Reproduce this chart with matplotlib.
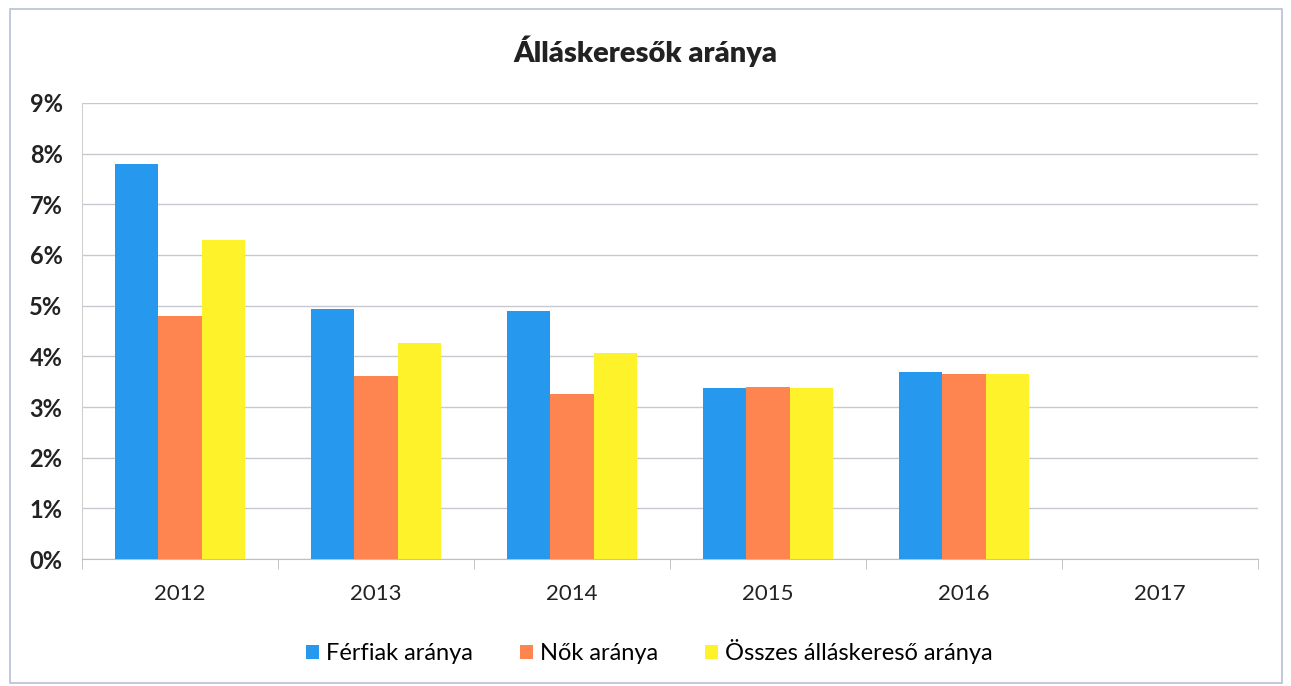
import numpy as np
import matplotlib
matplotlib.use("Agg")
import matplotlib.pyplot as plt
from matplotlib.ticker import FuncFormatter, FixedLocator
from matplotlib.patches import Rectangle

plt.rcParams['font.family'] = ['Lato', 'DejaVu Sans']

# adatok
years = ['2012', '2013', '2014', '2015', '2016', '2017']
ferfiak = [7.8, 4.93, 4.89, 3.38, 3.69, np.nan]
nok = [4.79, 3.61, 3.25, 3.39, 3.65, np.nan]
osszes = [6.29, 4.26, 4.06, 3.38, 3.65, np.nan]
series_names = ['Férfiak aránya', 'Nők aránya', 'Összes álláskereső aránya']
colors = ['#2699ee', '#fe8450', '#fef32a']

fig = plt.figure(figsize=(12.91, 6.86), dpi=100)
ax = fig.add_axes([0.0635, 0.185, 0.911, 0.665])

x = np.arange(len(years))
w = 0.22
for i, (vals, name, c) in enumerate(zip([ferfiak, nok, osszes], series_names, colors)):
    ax.bar(x + (i - 1) * w, vals, w, color=c, label=name, zorder=3)

ax.set_xlim(-0.5, len(years) - 0.5)
ax.set_ylim(0, 9)
ax.set_yticks(np.arange(0, 10, 1))
ax.yaxis.set_major_formatter(FuncFormatter(lambda v, p: '%d%%' % v))
ax.set_xticks(x)
ax.set_xticklabels(years)
ax.xaxis.set_minor_locator(FixedLocator(np.arange(-0.5, len(years), 1)))
ax.tick_params(axis='x', which='major', length=0, labelsize=16, pad=18, colors='#222222')
ax.tick_params(axis='x', which='minor', length=7, color='#bbbbbb')
ax.tick_params(axis='y', length=0, labelsize=17, pad=14, colors='#222222')
for lb in ax.get_yticklabels():
    lb.set_fontweight('bold')

ax.grid(axis='y', color='#c8c8d0', linewidth=1, zorder=0)
for s in ['top', 'right']:
    ax.spines[s].set_visible(False)
ax.spines['left'].set_color('#d0d0d0')
ax.spines['bottom'].set_color('#c0c0c0')

fig.text(0.5, 0.925, 'Álláskeresők aránya', ha='center', va='center',
         fontsize=21, fontweight='heavy', color='#222222')

fig.legend(loc='center', bbox_to_anchor=(0.503, 0.05), ncol=3, frameon=False,
           fontsize=17, handlelength=0.55, handleheight=0.55, columnspacing=2.0,
           handletextpad=0.3)

# keret a diagram körül
fig.patches.append(Rectangle((0.008, 0.005), 0.985, 0.982, transform=fig.transFigure,
                             fill=False, edgecolor='#b8c0d8', linewidth=1.2))

fig.savefig('out.png', dpi=100)
